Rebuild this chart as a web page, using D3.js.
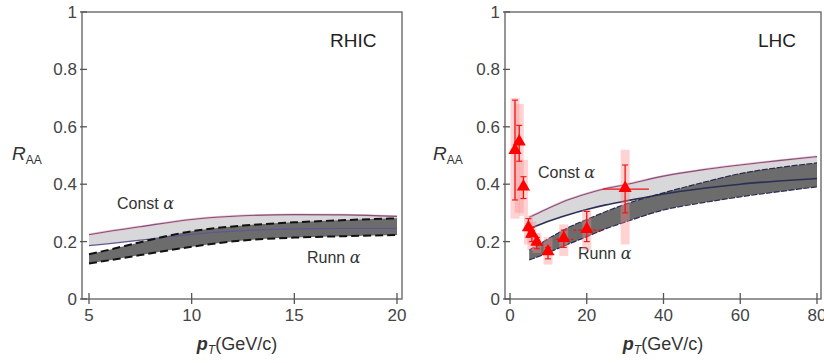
<!DOCTYPE html>
<html><head><meta charset="utf-8">
<script src="https://cdn.jsdelivr.net/npm/d3@7"></script>
<style>body{margin:0;background:#fff}svg{display:block}text{font-family:Arial,"Liberation Sans",sans-serif}</style>
</head><body>
<script>
// ---- data ----
const yTicks = [0, 0.2, 0.4, 0.6, 0.8, 1];
const yTickLabels = ["0", "0.2", "0.4", "0.6", "0.8", "1"];
const rhicTicks = [5, 10, 15, 20];
const lhcTicks = [0, 20, 40, 60, 80];

const rhicPt = [5, 6, 7.5, 10, 12.5, 15, 17.5, 20];
const rhicConstTop = [0.224, 0.236, 0.252, 0.277, 0.290, 0.294, 0.293, 0.288];
const rhicConstLow = [0.186, 0.193, 0.205, 0.225, 0.238, 0.244, 0.246, 0.246];
const rhicRunnTop  = [0.156, 0.172, 0.198, 0.236, 0.256, 0.267, 0.275, 0.281];
const rhicRunnLow  = [0.124, 0.135, 0.153, 0.182, 0.204, 0.214, 0.219, 0.223];

const lhcPt = [5, 7.5, 10, 15, 20, 25, 30, 40, 50, 60, 70, 80];
const lhcConstTop = [0.285, 0.300, 0.316, 0.345, 0.367, 0.385, 0.398, 0.428, 0.450, 0.467, 0.482, 0.496];
const lhcConstLow = [0.246, 0.258, 0.271, 0.293, 0.312, 0.328, 0.341, 0.366, 0.385, 0.400, 0.411, 0.420];
const lhcRunnTop  = [0.171, 0.190, 0.210, 0.248, 0.277, 0.305, 0.330, 0.370, 0.405, 0.437, 0.458, 0.474];
const lhcRunnLow  = [0.136, 0.148, 0.162, 0.190, 0.217, 0.245, 0.268, 0.310, 0.335, 0.356, 0.374, 0.391];

const dataPt   = [1.3, 2.4, 3.5, 4.8, 5.7, 7.0, 9.9, 14.0, 20.0, 30.0];
const dataRaa  = [0.515, 0.545, 0.388, 0.246, 0.225, 0.195, 0.162, 0.208, 0.240, 0.383];
const statLo   = [0.345, 0.480, 0.350, 0.215, 0.200, 0.175, 0.140, 0.180, 0.200, 0.300];
const statHi   = [0.693, 0.605, 0.426, 0.280, 0.250, 0.215, 0.180, 0.240, 0.305, 0.467];
const systLo   = [0.280, 0.300, 0.290, 0.190, 0.170, 0.160, 0.120, 0.150, 0.170, 0.190];
const systHi   = [0.700, 0.680, 0.485, 0.290, 0.270, 0.230, 0.215, 0.260, 0.310, 0.520];
const ptLo     = [null, null, null, null, null, null, null, 12.0, 16.5, 24.2];
const ptHi     = [null, null, null, null, null, null, null, 16.5, 24.2, 36.2];

// ---- drawing ----
const svg = d3.select("body").append("svg").attr("width", 824).attr("height", 363);

function panel(cfg) {
  const g = svg.append("g");
  const x = d3.scaleLinear().domain(cfg.xDomain).range(cfg.xRange);
  const y = d3.scaleLinear().domain([0, 1]).range([299, 12]);
  const [fx0, fx1] = cfg.frame;

  const area = (top, low) => d3.area().curve(d3.curveMonotoneX)
      .x((d, i) => x(cfg.pt[i])).y0((d, i) => y(low[i])).y1((d, i) => y(top[i]));
  const line = arr => d3.line().curve(d3.curveMonotoneX)
      .x((d, i) => x(cfg.pt[i])).y((d, i) => y(arr[i]));

  g.append("path").datum(cfg.pt).attr("d", area(cfg.constTop, cfg.constLow))
    .attr("fill", "#d8d8da");
  g.append("path").datum(cfg.pt).attr("d", line(cfg.constTop))
    .attr("fill", "none").attr("stroke", "#f0bcd0").attr("stroke-width", 2.4);
  g.append("path").datum(cfg.pt).attr("d", line(cfg.constTop))
    .attr("fill", "none").attr("stroke", "#7a5577").attr("stroke-width", 1.1);
  g.append("path").datum(cfg.pt).attr("d", area(cfg.runnTop, cfg.runnLow))
    .attr("fill", "#6c6c6c");
  g.append("path").datum(cfg.pt).attr("d", line(cfg.constLow))
    .attr("fill", "none").attr("stroke", cfg.right ? "#2c2f55" : "#5a5a90").attr("stroke-width", cfg.right ? 1.6 : 1.2);
  [cfg.runnTop, cfg.runnLow].forEach(arr => {
    g.append("path").datum(cfg.pt).attr("d", line(arr))
      .attr("fill", "none")
      .attr("stroke", cfg.right ? "#2a2a50" : "#111")
      .attr("stroke-width", cfg.right ? 1.2 : 2)
      .attr("stroke-dasharray", cfg.right ? "6,1.5" : "8,4");
  });

  g.append("rect").attr("x", fx0).attr("y", 12).attr("width", fx1 - fx0).attr("height", 287)
    .attr("fill", "none").attr("stroke", "#6a6a6a").attr("stroke-width", 1.4);

  g.selectAll(".yt").data(yTicks).enter().append("line")
    .attr("x1", fx0 - 2).attr("x2", fx0 + 5).attr("y1", d => y(d)).attr("y2", d => y(d))
    .attr("stroke", "#555").attr("stroke-width", 1.3);
  g.selectAll(".yl").data(yTicks).enter().append("text")
    .attr("x", fx0 - 5).attr("y", d => y(d) + 6).attr("text-anchor", "end")
    .attr("font-size", 17).attr("fill", "#444").text((d, i) => yTickLabels[i]);

  g.selectAll(".xt").data(cfg.ticks).enter().append("line")
    .attr("x1", d => x(d)).attr("x2", d => x(d)).attr("y1", 293).attr("y2", 304)
    .attr("stroke", "#555").attr("stroke-width", 1.3);
  g.selectAll(".xl").data(cfg.ticks).enter().append("text")
    .attr("x", d => x(d)).attr("y", 321).attr("text-anchor", "middle")
    .attr("font-size", 17).attr("fill", "#444").text(d => d);

  const xt = g.append("text").attr("x", cfg.xTitleX).attr("y", 350).attr("text-anchor", "middle")
    .attr("font-size", 18).attr("fill", "#333");
  xt.append("tspan").attr("font-style", "italic").attr("font-weight", "bold").text("p");
  xt.append("tspan").attr("font-style", "italic").attr("font-size", 12).attr("dy", 4).text("T");
  xt.append("tspan").attr("dy", -4).text("(GeV/c)");

  const yt = g.append("text").attr("x", cfg.yTitleX).attr("y", 160).attr("font-size", 19).attr("fill", "#333");
  yt.append("tspan").attr("font-style", "italic").text("R");
  yt.append("tspan").attr("font-size", 12).attr("dy", 4).text("AA");

  g.append("text").attr("x", cfg.titleX).attr("y", 47).attr("font-size", 19).attr("fill", "#222")
    .text(cfg.title);

  const c = g.append("text").attr("x", cfg.constX).attr("y", cfg.constY).attr("font-size", 16).attr("fill", "#333");
  c.append("tspan").text("Const ");
  c.append("tspan").attr("font-style", "italic").attr("font-family", "'DejaVu Serif',serif").text("α");
  const r = g.append("text").attr("x", cfg.runnX).attr("y", cfg.runnY).attr("font-size", 16).attr("fill", "#333");
  r.append("tspan").text("Runn ");
  r.append("tspan").attr("font-style", "italic").attr("font-family", "'DejaVu Serif',serif").text("α");

  return {g, x, y};
}

panel({
  xDomain: [5, 20], xRange: [89, 397], frame: [82, 402], ticks: rhicTicks,
  pt: rhicPt, constTop: rhicConstTop, constLow: rhicConstLow, runnTop: rhicRunnTop, runnLow: rhicRunnLow,
  xTitleX: 237, yTitleX: 12, title: "RHIC", titleX: 330,
  constX: 117, constY: 209, runnX: 307, runnY: 263, right: false
});

const R = panel({
  xDomain: [0, 80], xRange: [510, 817], frame: [505, 821], ticks: lhcTicks,
  pt: lhcPt, constTop: lhcConstTop, constLow: lhcConstLow, runnTop: lhcRunnTop, runnLow: lhcRunnLow,
  xTitleX: 663, yTitleX: 433, title: "LHC", titleX: 758,
  constX: 538, constY: 178, runnX: 578, runnY: 259, right: true
});

const dg = R.g.append("g");
const idx = d3.range(dataPt.length);
dg.selectAll(".sys").data(idx).enter().append("rect")
  .attr("x", i => R.x(dataPt[i]) - 4.5).attr("width", 9)
  .attr("y", i => R.y(systHi[i])).attr("height", i => R.y(systLo[i]) - R.y(systHi[i]))
  .attr("fill", "rgba(255,140,140,0.38)");
dg.selectAll(".st").data(idx).enter().append("line")
  .attr("x1", i => R.x(dataPt[i])).attr("x2", i => R.x(dataPt[i]))
  .attr("y1", i => R.y(statHi[i])).attr("y2", i => R.y(statLo[i]))
  .attr("stroke", "#f01010").attr("stroke-width", 1.3);
dg.selectAll(".cap").data(idx.flatMap(i => [[i, statHi[i]], [i, statLo[i]]])).enter().append("line")
  .attr("x1", d => R.x(dataPt[d[0]]) - 3).attr("x2", d => R.x(dataPt[d[0]]) + 3)
  .attr("y1", d => R.y(d[1])).attr("y2", d => R.y(d[1]))
  .attr("stroke", "#f01010").attr("stroke-width", 1.1);
dg.selectAll(".xe").data(idx.filter(i => ptLo[i] !== null)).enter().append("line")
  .attr("x1", i => R.x(ptLo[i])).attr("x2", i => R.x(ptHi[i]))
  .attr("y1", i => R.y(dataRaa[i])).attr("y2", i => R.y(dataRaa[i]))
  .attr("stroke", "#f01010").attr("stroke-width", 1.3)
  .attr("stroke-dasharray", i => i < 9 ? "3,2" : null);
dg.selectAll(".tri").data(idx).enter().append("path")
  .attr("d", d3.symbol().type(d3.symbolTriangle).size(75))
  .attr("transform", i => `translate(${R.x(dataPt[i])},${R.y(dataRaa[i]) - 1})`)
  .attr("fill", "#ff0000");
</script>
</body></html>
